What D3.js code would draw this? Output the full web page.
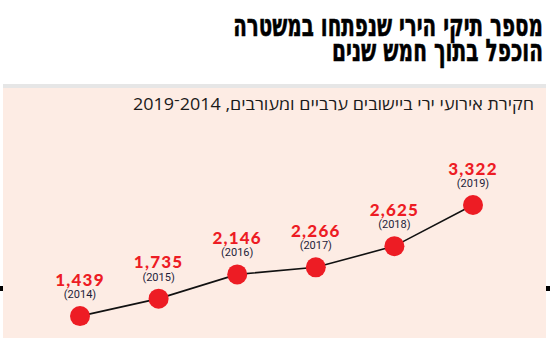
<!DOCTYPE html>
<html>
<head>
<meta charset="utf-8">
<script src="https://cdn.jsdelivr.net/npm/d3@7/dist/d3.min.js"></script>
<style>
  html, body { margin: 0; padding: 0; background: #ffffff; }
  svg { display: block; }
</style>
</head>
<body>
<svg id="chart" width="550" height="338"></svg>
<script>
// Shooting-incident case files opened by police, per year
const years = ["2014", "2015", "2016", "2017", "2018", "2019"];
const cases = [1439, 1735, 2146, 2266, 2625, 3322];
const titleLines = ["מספר תיקי הירי שנפתחו במשטרה", "הוכפל בתוך חמש שנים"];
const subtitle = "חקירת אירועי ירי ביישובים ערביים ומעורבים, 2014־2019";

const W = 550, H = 338;
const svg = d3.select("#chart");

// Panel background with grey top strip
svg.append("rect").attr("x", 3).attr("y", 84).attr("width", 543).attr("height", H - 84)
  .attr("fill", "#fdece4");
svg.append("rect").attr("x", 3).attr("y", 84).attr("width", 543).attr("height", 4)
  .attr("fill", "#e6e6e6");

// Small edge markers
svg.append("rect").attr("x", 0).attr("y", 286).attr("width", 3).attr("height", 5).attr("fill", "#000");
svg.append("rect").attr("x", 546).attr("y", 286).attr("width", 4).attr("height", 5).attr("fill", "#000");

// Title: heavy headline, each line scaled horizontally to its set width
const titleWidths = [310, 211];
titleLines.forEach((t, i) => {
  const txt = svg.append("text")
    .attr("x", 0).attr("y", 0)
    .attr("text-anchor", "end")
    .attr("font-family", "'DejaVu Sans', sans-serif")
    .attr("font-weight", 700)
    .attr("font-size", 31)
    .attr("stroke", "#000")
    .attr("stroke-width", 0.6)
    .attr("fill", "#000")
    .text(t);
  const w = txt.node().getComputedTextLength();
  txt.attr("transform", `translate(543,${35.5 + i * 25}) scale(${titleWidths[i] / w},1)`);
});

// Subtitle
svg.append("text")
  .attr("x", 534).attr("y", 110)
  .attr("direction", "rtl")
  .attr("text-anchor", "start")
  .attr("font-family", "'Open Sans', 'DejaVu Sans', sans-serif")
  .attr("font-size", 16)
  .attr("textLength", 401)
  .attr("lengthAdjust", "spacingAndGlyphs")
  .attr("fill", "#1a1a1a")
  .text(subtitle);

// Scales
const x = d3.scalePoint().domain(years).range([80, 473]);
const y = d3.scaleLinear().domain([1000, 3500]).range([342, 194.5]);

const pts = years.map((yr, i) => ({ year: yr, value: cases[i] }));

// Connecting line
svg.append("path")
  .datum(pts)
  .attr("fill", "none")
  .attr("stroke", "#111")
  .attr("stroke-width", 1.6)
  .attr("d", d3.line().x(d => x(d.year)).y(d => y(d.value)));

// Markers
svg.selectAll("circle.pt").data(pts).join("circle")
  .attr("class", "pt")
  .attr("cx", d => x(d.year)).attr("cy", d => y(d.value))
  .attr("r", 10)
  .attr("fill", "#ed1c24");

// Value labels
const fmt = d3.format(",");
svg.selectAll("text.val").data(pts).join("text")
  .attr("class", "val")
  .attr("x", d => x(d.year)).attr("y", d => y(d.value) - 30.5)
  .attr("text-anchor", "middle")
  .attr("font-family", "Lato, 'Open Sans', sans-serif")
  .attr("font-weight", 900)
  .attr("font-size", 17)
  .attr("letter-spacing", 1.2)
  .attr("fill", "#ed1c24")
  .text(d => fmt(d.value));

// Year labels
svg.selectAll("text.yr").data(pts).join("text")
  .attr("class", "yr")
  .attr("x", d => x(d.year)).attr("y", d => y(d.value) - 18)
  .attr("text-anchor", "middle")
  .attr("font-family", "'Roboto', 'DejaVu Sans', sans-serif")
  .attr("font-size", 11)
  .attr("fill", "#1d1d3a")
  .text(d => "(" + d.year + ")");
</script>
</body>
</html>
